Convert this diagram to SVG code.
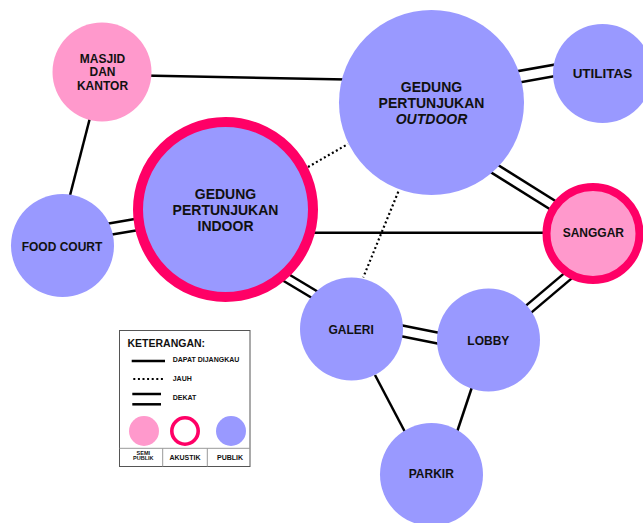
<svg xmlns="http://www.w3.org/2000/svg" width="643" height="523" viewBox="0 0 643 523">
<style>
.l{stroke:#000;stroke-width:2.5;fill:none}
.d{stroke:#000;stroke-width:2.2;fill:none;stroke-dasharray:2 2.6}
.pub{fill:#9999FF}
.semi{fill:#FF99CC}
.ak{stroke:#FF0066}
text{font-family:"Liberation Sans",Arial,sans-serif;font-weight:bold;fill:#111;text-anchor:middle}
.t12{font-size:12px}
.t14{font-size:14px}
.lg{font-size:7px;text-anchor:start}
</style>
<rect width="643" height="523" fill="#fff"/>
<g id="connectors">
<line class="l" x1="130" y1="75.2" x2="360" y2="79.7"/>
<line class="l" x1="92" y1="110" x2="67" y2="207"/>
<line class="l" x1="100" y1="225" x2="145" y2="217.3"/>
<line class="l" x1="100" y1="236.6" x2="145" y2="228.9"/>
<line class="d" x1="308" y1="167" x2="348" y2="144"/>
<line class="l" x1="300" y1="232.7" x2="560" y2="232.7"/>
<line class="l" x1="270" y1="263" x2="330" y2="299"/>
<line class="l" x1="262" y1="268" x2="322" y2="304"/>
<line class="l" x1="500" y1="74.3" x2="575" y2="61.1"/>
<line class="l" x1="500" y1="86" x2="575" y2="72.4"/>
<line class="l" x1="480" y1="153.8" x2="575" y2="213.2"/>
<line class="l" x1="475" y1="162.4" x2="570" y2="221.8"/>
<line class="d" x1="398.3" y1="191.7" x2="363.3" y2="277.3"/>
<line class="l" x1="380" y1="321" x2="460" y2="337"/>
<line class="l" x1="380" y1="332" x2="460" y2="348"/>
<line class="l" x1="510" y1="319.1" x2="580" y2="259.9"/>
<line class="l" x1="515" y1="326.4" x2="585" y2="267.1"/>
<line class="l" x1="375" y1="375" x2="405" y2="432"/>
<line class="l" x1="472" y1="387" x2="457" y2="432"/>
</g>
<g id="masjid">
<circle class="semi" cx="102" cy="72" r="49.5"/>
<text class="t12" x="102.5" y="62.6">MASJID</text>
<text class="t12" x="102.5" y="76">DAN</text>
<text class="t12" x="102.5" y="90">KANTOR</text>
</g>
<g id="foodcourt">
<circle class="pub" cx="62.5" cy="245.5" r="51.5"/>
<text class="t12" x="62" y="251">FOOD COURT</text>
</g>
<g id="indoor">
<circle class="pub ak" cx="225.5" cy="209.5" r="87.5" stroke-width="10"/>
<text class="t14" x="225.5" y="199">GEDUNG</text>
<text class="t14" x="225.5" y="215">PERTUNJUKAN</text>
<text class="t14" x="225.5" y="231">INDOOR</text>
</g>
<g id="outdoor">
<circle class="pub" cx="431.5" cy="102.5" r="92.5"/>
<text class="t14" x="431.5" y="92.3">GEDUNG</text>
<text class="t14" x="431.5" y="108.3">PERTUNJUKAN</text>
<text class="t14" x="431.5" y="123.5" font-style="italic">OUTDOOR</text>
</g>
<g id="utilitas">
<circle class="pub" cx="602.5" cy="73.5" r="49.5"/>
<text x="602.5" y="77.7" font-size="13.5">UTILITAS</text>
</g>
<g id="sanggar">
<circle class="semi ak" cx="593" cy="233.5" r="46.5" stroke-width="8"/>
<text class="t12" x="593.3" y="237">SANGGAR</text>
</g>
<g id="galeri">
<circle class="pub" cx="351.5" cy="329" r="51.5"/>
<text class="t12" x="351.2" y="333.6">GALERI</text>
</g>
<g id="lobby">
<circle class="pub" cx="488.5" cy="340" r="51.5"/>
<text class="t12" x="488.3" y="345">LOBBY</text>
</g>
<g id="parkir">
<circle class="pub" cx="431.5" cy="474.5" r="51.5"/>
<text class="t12" x="431.3" y="477.6">PARKIR</text>
</g>
<g id="legend">
<rect x="119.5" y="330.5" width="130.5" height="136" fill="#fff" stroke="#555" stroke-width="1"/>
<text x="127.5" y="347.2" font-size="10.5" style="text-anchor:start">KETERANGAN:</text>
<line class="l" x1="131.7" y1="361" x2="165" y2="361"/>
<text class="lg" x="172.7" y="361.5">DAPAT DIJANGKAU</text>
<line class="d" x1="133.3" y1="379" x2="165" y2="379"/>
<text class="lg" x="172.7" y="380.5">JAUH</text>
<line class="l" x1="132.3" y1="394" x2="161" y2="394"/>
<line class="l" x1="132.3" y1="404.3" x2="161" y2="404.3"/>
<text class="lg" x="172.7" y="399.5">DEKAT</text>
<circle class="semi" cx="144" cy="431" r="15"/>
<circle cx="185" cy="431" r="13.2" fill="#fff" stroke="#FF0066" stroke-width="3.6"/>
<circle class="pub" cx="231" cy="431" r="15"/>
<line x1="119.5" y1="448.3" x2="250" y2="448.3" stroke="#999" stroke-width="1"/>
<line x1="162.7" y1="448.3" x2="162.7" y2="466.5" stroke="#999" stroke-width="1"/>
<line x1="207.3" y1="448.3" x2="207.3" y2="466.5" stroke="#999" stroke-width="1"/>
<text x="143.3" y="455" font-size="5.5">SEMI</text>
<text x="143.3" y="459.6" font-size="5.5">PUBLIK</text>
<text x="185" y="459.8" font-size="7">AKUSTIK</text>
<text x="230" y="459.8" font-size="7">PUBLIK</text>
</g>
</svg>
